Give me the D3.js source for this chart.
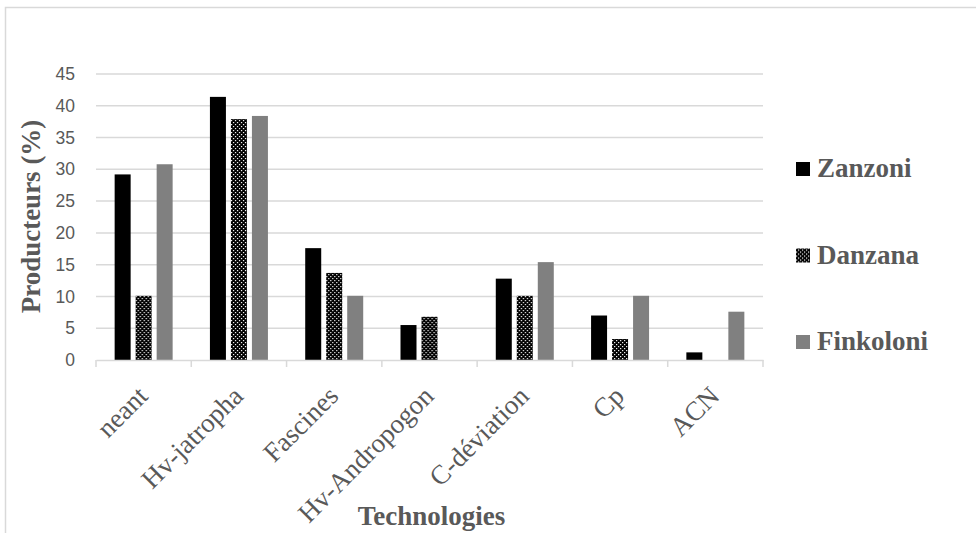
<!DOCTYPE html>
<html>
<head>
<meta charset="utf-8">
<script src="https://cdn.jsdelivr.net/npm/d3@7"></script>
<style>
  html, body { margin: 0; padding: 0; background: #ffffff; }
  svg { display: block; }
</style>
</head>
<body>
<svg id="chart" width="976" height="533"></svg>
<script>
// ---- data ----
const categories = ["neant", "Hv-jatropha", "Fascines", "Hv-Andropogon", "C-déviation", "Cp", "ACN"];
const seriesNames = ["Zanzoni", "Danzana", "Finkoloni"];
const zanzoni   = [29.2, 41.4, 17.6, 5.5, 12.8, 7.0, 1.2];
const danzana   = [10.1, 37.9, 13.7, 6.8, 10.1, 3.3, 0];
const finkoloni = [30.8, 38.4, 10.1, 0, 15.4, 10.1, 7.6];
const yTicks = [0, 5, 10, 15, 20, 25, 30, 35, 40, 45];
const yTitle = "Producteurs (%)";
const xTitle = "Technologies";

const seriesValues = [zanzoni, danzana, finkoloni];

const svg = d3.select("#chart");

// pattern for Danzana
const defs = svg.append("defs");
const pat = defs.append("pattern")
  .attr("id", "dots").attr("patternUnits", "userSpaceOnUse")
  .attr("width", 4).attr("height", 4);
pat.append("rect").attr("width", 4).attr("height", 4).attr("fill", "#000");
pat.append("rect").attr("x", 0).attr("y", 0).attr("width", 1.2).attr("height", 1.2).attr("fill", "#fff");
pat.append("rect").attr("x", 2).attr("y", 2).attr("width", 1.2).attr("height", 1.2).attr("fill", "#fff");

const fills = ["#000000", "url(#dots)", "#808080"];

// outer frame
svg.append("rect")
  .attr("x", 5.5).attr("y", 7.5).attr("width", 1000).attr("height", 600)
  .attr("fill", "none").attr("stroke", "#d9d9d9").attr("stroke-width", 1.5);

const pLeft = 96, pRight = 763, pTop = 74, pBottom = 360;

const x0 = d3.scaleBand().domain(categories).range([pLeft, pRight]).padding(0);
const x1 = d3.scaleBand().domain(seriesNames).range([-29, 29]).paddingInner(5 / 21).paddingOuter(0);
const y = d3.scaleLinear().domain([0, 45]).range([pBottom, pTop]);

// gridlines
svg.append("g").selectAll("line")
  .data(yTicks.filter(d => d > 0))
  .join("line")
  .attr("x1", pLeft).attr("x2", pRight)
  .attr("y1", d => y(d)).attr("y2", d => y(d))
  .attr("stroke", "#d9d9d9").attr("stroke-width", 1.5);

// y tick labels
svg.append("g").selectAll("text")
  .data(yTicks)
  .join("text")
  .attr("x", 75).attr("y", d => y(d))
  .attr("dy", "0.35em")
  .attr("text-anchor", "end")
  .attr("font-family", "'Liberation Sans', Arial, sans-serif")
  .attr("font-size", 17.5)
  .attr("fill", "#595959")
  .text(d => d);

// bars
const groups = svg.append("g").selectAll("g")
  .data(categories)
  .join("g")
  .attr("transform", d => `translate(${x0(d) + x0.bandwidth() / 2},0)`);

groups.selectAll("rect")
  .data((d, i) => seriesNames.map((s, j) => ({ s, j, v: seriesValues[j][i] })).filter(e => e.v > 0))
  .join("rect")
  .attr("x", d => x1(d.s))
  .attr("width", x1.bandwidth())
  .attr("y", d => y(d.v))
  .attr("height", d => y(0) - y(d.v))
  .attr("fill", d => fills[d.j]);

// x axis
const xAxis = d3.axisBottom(x0).tickSize(0).tickFormat("");
const gx = svg.append("g").attr("transform", `translate(0,${pBottom})`).call(xAxis);
gx.select(".domain").attr("stroke", "#d9d9d9").attr("stroke-width", 1.5);
// boundary tick marks
const bounds = categories.map(c => x0(c)).concat([pRight]);
svg.append("g").selectAll("line")
  .data(bounds)
  .join("line")
  .attr("x1", d => d).attr("x2", d => d)
  .attr("y1", pBottom).attr("y2", pBottom + 7)
  .attr("stroke", "#d9d9d9").attr("stroke-width", 1.5);

// x labels
svg.append("g").selectAll("text")
  .data(categories)
  .join("text")
  .attr("transform", d => `translate(${x0(d) + x0.bandwidth() / 2 - 1},${pBottom + 31}) rotate(-45)`)
  .attr("dy", "0.35em")
  .attr("text-anchor", "end")
  .attr("font-family", "'Liberation Serif', 'Times New Roman', serif")
  .attr("font-size", 27)
  .attr("fill", "#595959")
  .text(d => d);

// axis titles
svg.append("text")
  .attr("x", (pLeft + pRight) / 2 + 2).attr("y", 525)
  .attr("text-anchor", "middle")
  .attr("font-family", "'Liberation Serif', 'Times New Roman', serif")
  .attr("font-weight", "bold").attr("font-size", 27)
  .attr("fill", "#595959")
  .text(xTitle);

svg.append("text")
  .attr("transform", `translate(40,${(115 + 318) / 2}) rotate(-90)`)
  .attr("text-anchor", "middle")
  .attr("font-family", "'Liberation Serif', 'Times New Roman', serif")
  .attr("font-weight", "bold").attr("font-size", 27)
  .attr("fill", "#595959")
  .text(yTitle);

// legend
const legendBaselines = [177, 263.5, 350];
const lg = svg.append("g").selectAll("g")
  .data(seriesNames)
  .join("g")
  .attr("transform", (d, i) => `translate(796,${legendBaselines[i]})`);
lg.append("rect")
  .attr("x", 0).attr("y", -15).attr("width", 14).attr("height", 14)
  .attr("fill", (d, i) => fills[i]);
lg.append("text")
  .attr("x", 21).attr("y", 0)
  .attr("font-family", "'Liberation Serif', 'Times New Roman', serif")
  .attr("font-weight", "bold").attr("font-size", 27)
  .attr("fill", "#595959")
  .text(d => d);
</script>
</body>
</html>
